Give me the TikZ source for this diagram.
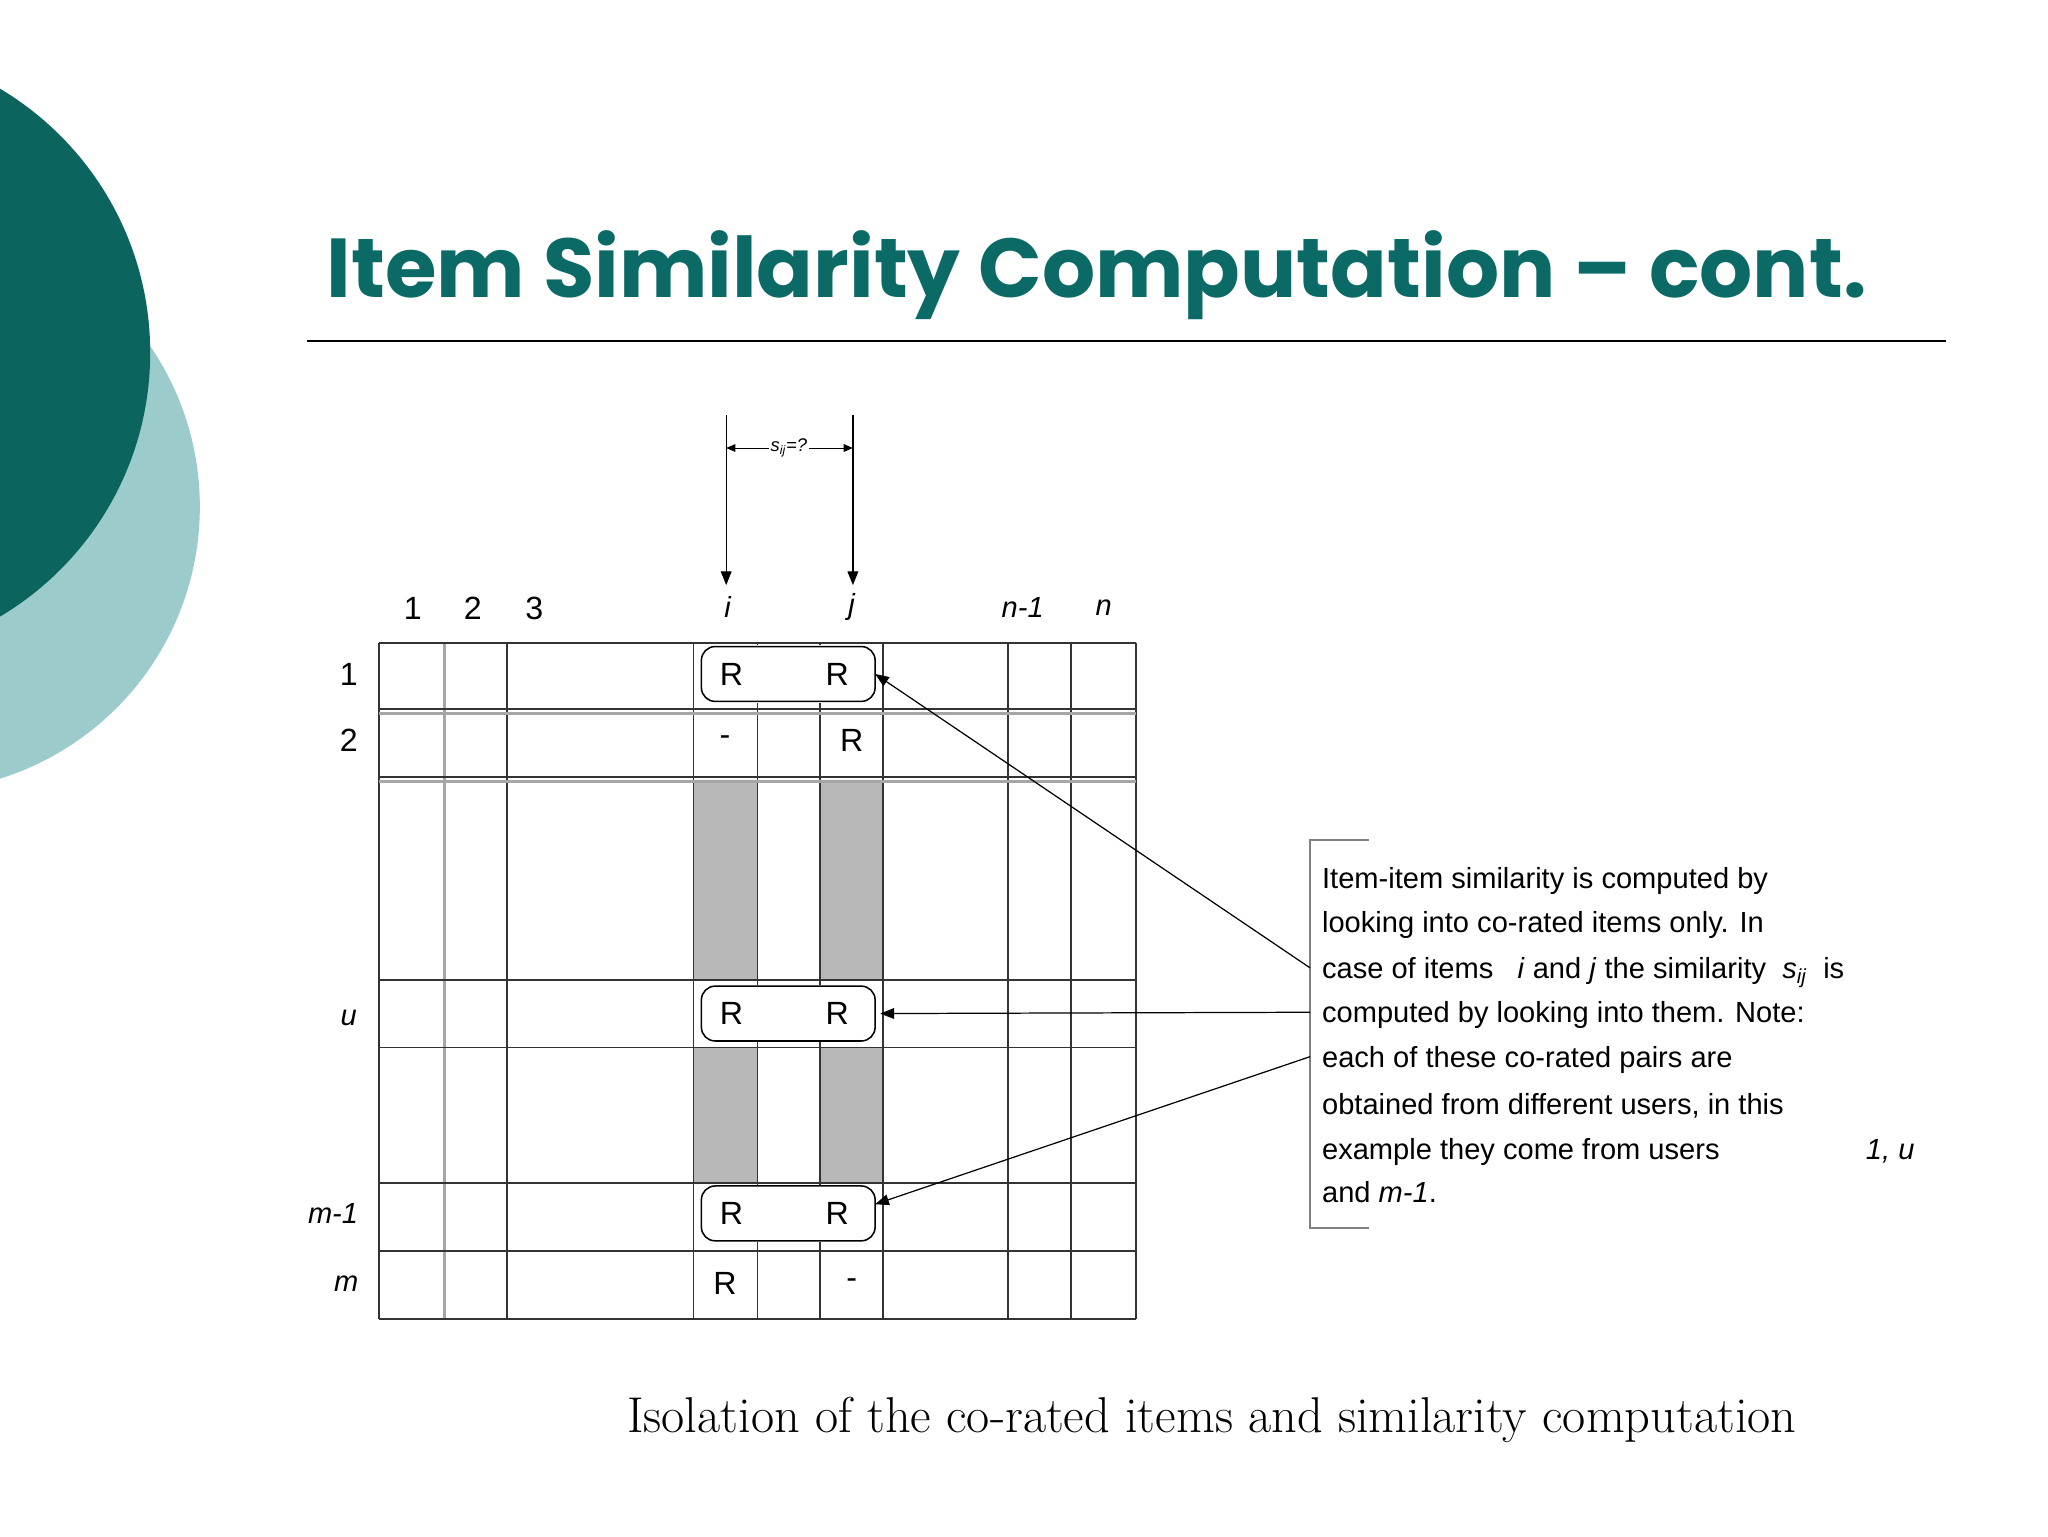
\documentclass[tikz,border=0pt]{standalone}
\usepackage{fontspec}
\setmainfont{Liberation Sans}
\newfontfamily\titlefont{Poppins}
\newfontfamily\lmfont{Latin Modern Roman}
\usetikzlibrary{arrows.meta}
\definecolor{darkteal}{HTML}{0B645E}
\definecolor{lightteal}{HTML}{9CCBCC}
\definecolor{titlecol}{HTML}{0B6A66}
\begin{document}
\begin{tikzpicture}[x=0.03cm,y=-0.03cm,
  grid/.style={line width=1.2pt,black!80},
  ggrid/.style={line width=2pt,black!35},
  rbox/.style={draw,line width=1pt,rounded corners=9pt},
  lbl/.style={font=\fontsize{19}{20}\selectfont\itshape,inner sep=0},
  rl/.style={font=\fontsize{21}{22}\selectfont,inner sep=0},
  txt/.style={font=\fontsize{19}{20}\selectfont,anchor=base west,inner sep=0},
  arr/.style={line width=0.8pt,-{Triangle[length=9pt,width=7pt]}}]
\useasboundingbox (0,0) rectangle (1568,1176);
\fill[lightteal] (-65,388) circle (218);
\fill[darkteal] (-120,270) circle (235);
\node[anchor=base west,inner sep=0,text=titlecol,font=\titlefont\bfseries\fontsize{54.6}{60}\selectfont] (title) at (250,228) {Item Similarity Computation – cont.};
\draw[line width=1pt] (235,261) -- (1490,261);
% gray fills
\fill[black!28] (531,597) rectangle (580,750) (628,597) rectangle (676,750)
 (531,802) rectangle (580,906) (628,802) rectangle (676,906);
% vertical lines
\foreach \x in {290,388,531,580,628,676,772,820,870} \draw[grid] (\x,492) -- (\x,1010);
\draw[ggrid] (340,492) -- (340,1010);
% horizontal lines
\foreach \y in {492,750,802,906,958,1010} \draw[grid] (290,\y) -- (870,\y);
\foreach \y in {545,597} {\draw[grid] (290,\y-2) -- (870,\y-2); \draw[ggrid] (290,\y+1) -- (870,\y+1);}
% rounded boxes
\foreach \y in {516,776,929} {
  \fill[white] (533,\y-22) rectangle (674,\y+22);
  \draw[rbox] (537,\y-21) rectangle (670,\y+21);
  \node[rl] at (560,\y) {R}; \node[rl] at (641,\y) {R};}
\coordinate (ea) at (670,516); \coordinate (eb) at (674,776); \coordinate (ec) at (670,922);
\node[rl] at (555,567) {-}; \node[rl] at (652,567) {R};
\node[rl] at (555,983) {R}; \node[rl] at (652,983) {-};
% column labels
\foreach \x/\t in {316/1,362/2,409/3} \node[rl] at (\x,466) {\t};
\node[lbl] (ci) at (557,465) {i}; \node[lbl] (cj) at (652,465) {j};
\node[lbl] at (783,465) {n-1}; \node[lbl] at (845,465) {n};
% row labels
\node[rl] at (267,516) {1}; \node[rl] at (267,567) {2};
\node[lbl] at (267,779) {u}; \node[lbl] at (255,929) {m-1}; \node[lbl] at (265,983) {m};
% top arrows
\coordinate (ti) at (556,318); \coordinate (tj) at (653,318);
\coordinate (bi) at (556,448); \coordinate (bj) at (653,448);
\draw[arr] (ti) -- (bi); \draw[arr] (tj) -- (bj);
\node[inner sep=1pt,font=\fontsize{12}{12}\selectfont\itshape] (sij) at (604,343) {s\textsubscript{ij}=?};
\draw[line width=0.6pt,-{Triangle[length=6pt,width=5pt]}] (sij.west) -- (556,343);
\draw[line width=0.6pt,-{Triangle[length=6pt,width=5pt]}] (sij.east) -- (653,343);
% text box
\draw[line width=1pt,black!50] (1048,643) -- (1003,643) -- (1003,940) -- (1048,940);
\coordinate (ta) at (1003,741); \coordinate (tb) at (1003,775); \coordinate (tc) at (1003,809);
\draw[arr] (ta) -- (ea); \draw[arr] (tb) -- (eb); \draw[arr] (tc) -- (ec);
\node[txt] at (1012,680) {Item-item similarity is computed by};
\node[txt] at (1012,714) {looking into co-rated items only. In};
\node[txt] at (1012,749) {case of items \ \ \textit{i} and \textit{j} the similarity \ \textit{s}\textsubscript{\textit{ij}} \ is};
\node[txt] at (1012,783) {computed by looking into them. Note:};
\node[txt] at (1012,817) {each of these co-rated pairs are};
\node[txt] at (1012,853) {obtained from different users, in this};
\node[txt] at (1012,888) {example they come from users};
\node[txt,anchor=base east] at (1466,888) {\textit{1, u}};
\node[txt] at (1012,921) {and \textit{m-1}.};
\node[anchor=base west,inner sep=0,font=\lmfont\fontsize{32.9}{34}\selectfont] (cap) at (480,1097) {Isolation of the co-rated items and similarity computation};
\end{tikzpicture}
\end{document}
